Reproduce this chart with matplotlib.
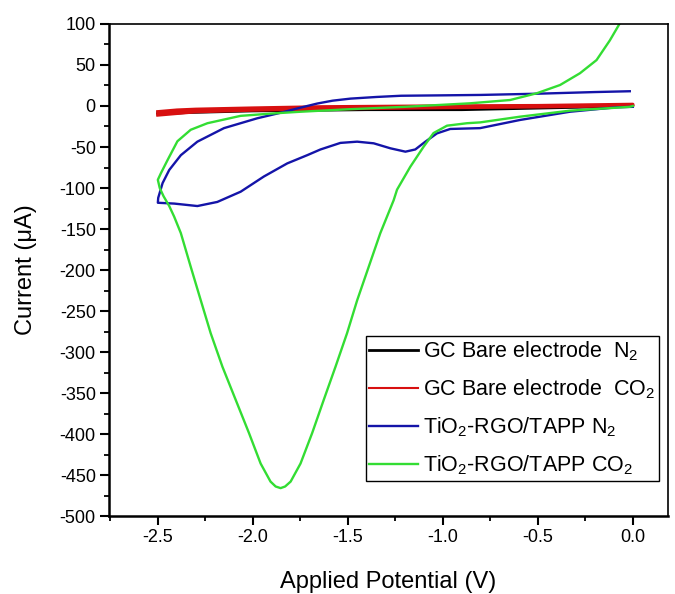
import numpy as np
import matplotlib
matplotlib.use('Agg')
import matplotlib.pyplot as plt
from matplotlib.ticker import MultipleLocator, FormatStrFormatter

plt.rcParams['font.family'] = ['Liberation Sans', 'DejaVu Sans']
plt.rcParams['mathtext.default'] = 'regular'
plt.rcParams['axes.unicode_minus'] = False

# GC bare electrode, N2 (loop: upper branch then lower branch)
gc_n2_v = [-2.5, -2.3, -2.0, -1.5, -1.0, -0.5, 0.0, 0.0, -0.3, -0.9, -1.4, -2.0, -2.35, -2.5]
gc_n2_i = [-8, -5, -3, -2, -1.5, -0.5, 1, 0, -1.6, -4.5, -4.5, -6, -8, -10]

# GC bare electrode, CO2
gc_co2_v = [-2.5, -2.4, -2.3, -2.0, -1.64, -1.0, -0.5, 0.0, 0.0, -0.5, -1.0, -1.64, -2.0, -2.3, -2.4, -2.5]
gc_co2_i = [-7, -5, -4, -2.5, -1, 0, 0.5, 2, 0.5, -1, -2, -3.5, -5, -7, -9, -11]

# TiO2-RGO/TAPP, N2
tio2_n2_v = [-0.016, -0.2, -0.5, -0.8, -1.0, -1.22, -1.35, -1.486, -1.58, -1.661, -1.749, -1.85,
             -1.977, -2.152, -2.292, -2.379, -2.44, -2.475, -2.498, -2.5,
             -2.414, -2.292, -2.187, -2.064, -1.942, -1.819, -1.714, -1.644, -1.539, -1.451,
             -1.364, -1.276, -1.197, -1.145, -1.092, -1.031, -0.961, -0.804, -0.593, -0.331,
             -0.086, 0.0]
tio2_n2_i = [18, 17, 15, 13.5, 13, 12.5, 11, 9, 6.5, 3, -2, -8,
             -15, -27, -43.5, -60, -78, -94, -112, -118,
             -119, -122, -117, -104.5, -86, -70, -60, -53, -45, -43.5,
             -45.5, -51.6, -55.7, -53, -43.5, -33.4, -28, -27, -17, -7,
             -1.6, -1]

# TiO2-RGO/TAPP, CO2
tio2_co2_v = [-0.055, -0.068, -0.121, -0.191, -0.278, -0.383, -0.506, -0.646, -0.856, -1.0,
              -1.2, -1.5, -1.749, -1.889, -2.064, -2.239, -2.327, -2.397, -2.449, -2.484, -2.5,
              -2.49, -2.47, -2.44, -2.414, -2.379, -2.327, -2.274, -2.222, -2.16, -2.09, -2.02,
              -1.959, -1.907, -1.88, -1.854, -1.83, -1.801, -1.749, -1.688, -1.627, -1.565,
              -1.504, -1.451, -1.39, -1.329, -1.259, -1.241, -1.171, -1.101, -1.049, -0.978,
              -0.873, -0.804, -0.593, -0.331, -0.016, 0.0]
tio2_co2_i = [112, 101, 80, 56, 40, 25.6, 15.5, 7.3, 3.3, 1.5,
              -1, -4, -7, -9, -12, -21, -29, -43, -66, -82, -90,
              -100, -110, -122, -135, -155, -196, -237, -277, -318, -358.5, -399,
              -436, -458, -464, -466, -464, -458, -436, -399, -358.5, -318,
              -277, -237, -196, -155, -115, -102, -74, -49.6, -33, -24,
              -21, -20, -13, -5.7, -1, 0]

fig = plt.figure(figsize=(6.75, 5.94), dpi=100)
ax = fig.add_axes([0.1615, 0.1313, 0.8281, 0.8283])

ax.plot(gc_n2_v, gc_n2_i, color='black', lw=2.0, label='GC Bare electrode  N$_2$')
ax.plot(gc_co2_v, gc_co2_i, color='#d81010', lw=2.4, label='GC Bare electrode  CO$_2$')
ax.plot(tio2_n2_v, tio2_n2_i, color='#1414a8', lw=1.7, label='TiO$_2$-RGO/TAPP N$_2$')
ax.plot(tio2_co2_v, tio2_co2_i, color='#33dd33', lw=1.7, label='TiO$_2$-RGO/TAPP CO$_2$')

ax.set_xlim(-2.757, 0.185)
ax.set_ylim(-500, 100)

ax.xaxis.set_major_locator(MultipleLocator(0.5))
ax.xaxis.set_minor_locator(MultipleLocator(0.25))
ax.yaxis.set_major_locator(MultipleLocator(50))
ax.yaxis.set_minor_locator(MultipleLocator(25))
ax.xaxis.set_major_formatter(FormatStrFormatter('%.1f'))

ax.tick_params(which='major', direction='out', length=6.5, width=1.5, labelsize=13, pad=3)
ax.tick_params(which='minor', direction='out', length=3.3, width=1.3)
for s in ['left', 'bottom']:
    ax.spines[s].set_linewidth(1.8)
for s in ['top', 'right']:
    ax.spines[s].set_linewidth(1.2)

ax.set_xlabel('Applied Potential (V)', fontsize=17, labelpad=18)
ax.set_ylabel('Current (μA)', fontsize=17, labelpad=16)

leg = ax.legend(loc='upper left', bbox_to_anchor=(0.46, 0.366), borderaxespad=0,
                fontsize=15.5, fancybox=False, framealpha=1, edgecolor='black',
                handlelength=2.25, handletextpad=0.25, labelspacing=0.68, borderpad=0.15)
leg.get_frame().set_linewidth(1.0)
# legend red handle drawn thinner like the original
leg.get_lines()[1].set_linewidth(1.5)

fig.savefig('out.png', dpi=100)
